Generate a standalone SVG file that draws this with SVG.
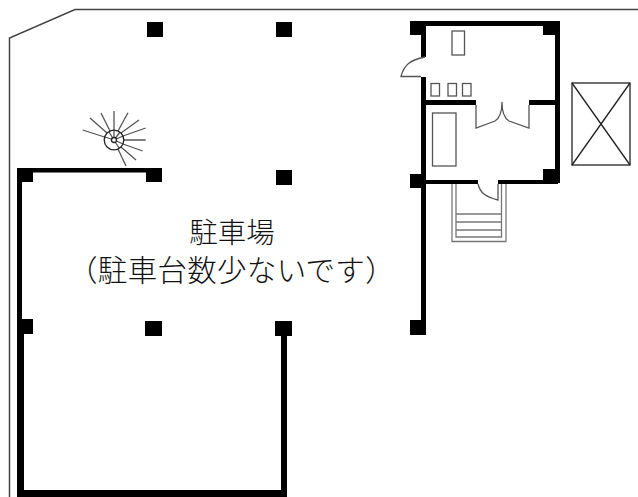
<svg xmlns="http://www.w3.org/2000/svg" width="638" height="497" viewBox="0 0 638 497">
<style>
.w{fill:#000}
.o{fill:none;stroke:#444;stroke-width:1.5}
.t{fill:none;stroke:#777;stroke-width:1.3}
.k{fill:none;stroke:#222;stroke-width:1.3}
.s{fill:none;stroke:#555;stroke-width:1.3}
text{font-family:"Noto Sans CJK JP","Noto Sans",sans-serif;fill:#111;text-anchor:middle;font-weight:300}
</style>
<rect width="638" height="497" fill="#fff"/>
<path class="o" d="M9.500 497V38L75 9.500H638"/>
<g id="walls">
<rect class="w" x="17" y="168" width="145" height="4.500"/>
<rect class="w" x="17" y="168" width="5" height="152"/>
<rect class="w" x="17" y="319" width="7" height="178"/>
<rect class="w" x="17" y="490" width="270" height="7"/>
<rect class="w" x="281" y="330" width="6" height="167"/>
<rect class="w" x="410" y="21" width="150" height="5"/>
<rect class="w" x="555" y="21" width="5" height="162"/>
<rect class="w" x="421" y="21" width="5" height="36"/>
<rect class="w" x="421" y="77" width="5" height="258"/>
<rect class="w" x="421" y="100" width="55" height="5"/>
<rect class="w" x="529" y="100" width="30" height="5"/>
<rect class="w" x="421" y="180" width="57" height="4"/>
<rect class="w" x="498" y="180" width="60" height="4"/>
</g>
<g id="columns">
<rect class="w" x="147" y="22" width="16" height="15"/>
<rect class="w" x="276" y="22" width="16" height="15"/>
<rect class="w" x="410" y="21" width="16" height="14"/>
<rect class="w" x="543" y="21" width="17" height="14"/>
<rect class="w" x="543" y="169" width="17" height="14"/>
<rect class="w" x="410" y="174" width="16" height="14"/>
<rect class="w" x="17" y="168" width="16" height="14"/>
<rect class="w" x="146" y="168" width="16" height="14"/>
<rect class="w" x="276" y="170" width="16" height="15"/>
<rect class="w" x="17" y="319" width="16" height="15"/>
<rect class="w" x="145" y="321" width="17" height="15"/>
<rect class="w" x="275" y="321" width="17" height="15"/>
<rect class="w" x="410" y="320" width="16" height="15"/>
</g>
<g id="fixtures">
<rect class="s" x="452" y="31" width="12.500" height="24"/>
<rect class="s" x="431" y="83.500" width="8.500" height="12.500"/>
<rect class="s" x="448" y="83.500" width="8.500" height="12.500"/>
<rect class="s" x="462.500" y="83.500" width="8.500" height="12.500"/>
<rect class="s" x="432.500" y="113" width="23.500" height="53"/>
</g>
<g id="doors">
<path class="s" d="M425 57C410 60 404 65 401 76.500H421"/>
<path class="s" d="M476 105V128L495 121C500 118 502 112 502 102C502 112 504 118 509 121L529 128V105"/>
<path class="s" d="M478 184C480 193 486 197 498 200V184"/>
</g>
<g id="stairs">
<path class="t" d="M452 184V241.500H506V184M456 184V237H501.500V184"/>
<path class="t" d="M456 214H501.500M456 222H501.500M456 230H501.500"/>
</g>
<g id="shaft">
<rect class="k" x="572" y="83" width="58" height="82"/>
<path class="k" d="M572 83L630 165M630 83L572 165"/>
</g>
<g id="spiral">
<path class="s" d="M114 130V111M118 131L128 112.700M121 133L139 120M123 136L145.700 128M124 140H145.700M123 144L142.700 151M121 147L136 160M118 149L126 166M104.500 137L82.700 130M107 133L90 118M110 131L101 113"/>
<path class="s" d="M114 140V130M114 140L120 132M114 140L123 136M114 140L123 144M114 140L119 148M114 140L105 137M114 140L109 132"/>
<circle cx="114" cy="140" r="9.800" fill="none" stroke="#222" stroke-width="1.300"/>
<circle cx="114" cy="140" r="2.500" fill="#fff" stroke="#222" stroke-width="1.300"/>
</g>
<g id="labels">
<text x="232" y="243" font-size="28.500">駐車場</text>
<text x="231.500" y="281" font-size="29.500" letter-spacing=".3">（駐車台数少ないです）</text>
</g>
</svg>
